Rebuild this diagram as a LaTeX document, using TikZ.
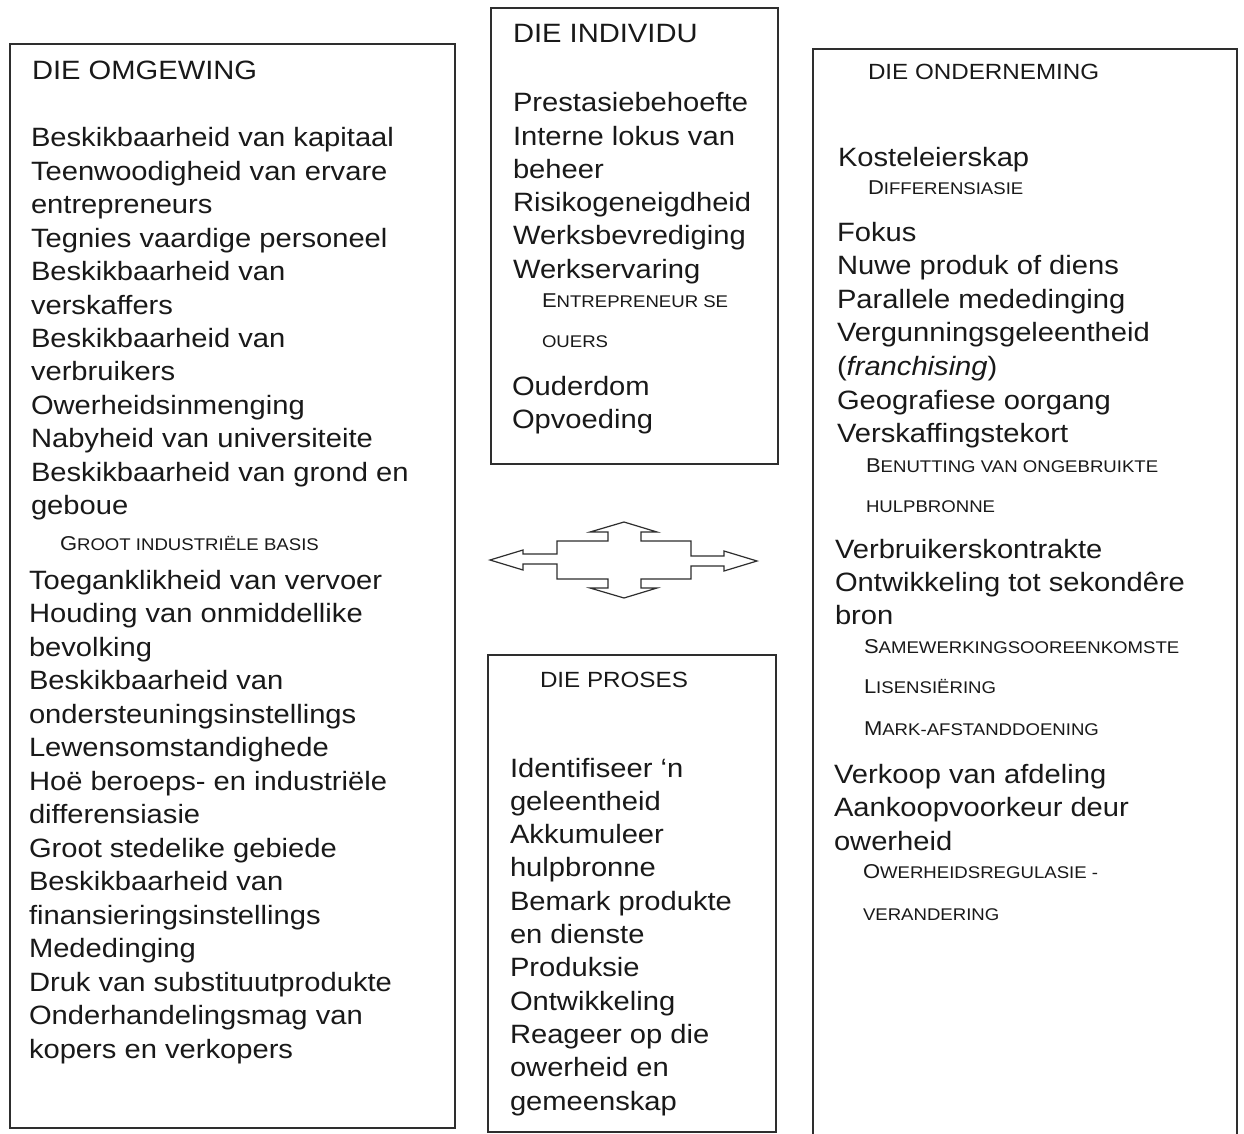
\documentclass[tikz,border=0pt]{standalone}
\usepackage{fontspec}
\setmainfont{Liberation Sans}[FakeStretch=1.1]
\newcommand\fsc[2]{{\fontsize{20}{20}\selectfont #1\fontsize{16.9}{17}\selectfont #2}}
\begin{document}
\begin{tikzpicture}[x=1pt,y=-1pt,
  box/.style={draw=black!82,line width=1.3pt,anchor=north west,inner sep=0pt,outer sep=0pt},
  txt/.style={anchor=base west,inner sep=0pt,outer sep=0pt,text=black!90,font=\fontsize{26.5}{33.5}\selectfont},
  hdr/.style={txt,font=\fontsize{22}{26}\selectfont},
  sml/.style={txt,font=\fontsize{16.9}{18}\selectfont},
  arrowshape/.style={draw=black!82,line width=1.2pt,line join=miter,fill=white}]
\useasboundingbox[fill=white] (0,0) rectangle (1244,1134);

% boxes
\node[box,minimum width=445pt,minimum height=1084pt] (omgewing) at (10,44) {};
\node[box,minimum width=287pt,minimum height=456pt] (individu) at (491,8) {};
\node[box,minimum width=288pt,minimum height=477pt] (proses) at (488,655) {};
\node[box,minimum width=424pt,minimum height=1110pt] (onderneming) at (813,49) {};

% left box
\node[txt] (o0) at (32,80) {DIE OMGEWING};
\foreach \t [count=\i] in {Beskikbaarheid van kapitaal,Teenwoodigheid van ervare,entrepreneurs,Tegnies vaardige personeel,Beskikbaarheid van,verskaffers,Beskikbaarheid van,verbruikers,Owerheidsinmenging,Nabyheid van universiteite,Beskikbaarheid van grond en,geboue}
  \node[txt] (oa\i) at (31,147+33.4*\i-33.4) {\t};
\node[sml] (osc) at (60,550) {\fsc{G}{ROOT INDUSTRIËLE BASIS}};
\foreach \t [count=\i] in {Toeganklikheid van vervoer,Houding van onmiddellike,bevolking,Beskikbaarheid van,ondersteuningsinstellings,Lewensomstandighede,Hoë beroeps- en industriële,differensiasie,Groot stedelike gebiede,Beskikbaarheid van,finansieringsinstellings,Mededinging,Druk van substituutprodukte,Onderhandelingsmag van,kopers en verkopers}
  \node[txt] (ob\i) at (29,589+33.5*\i-33.5) {\t};

% individu box
\node[txt] (i0) at (513,43) {DIE INDIVIDU};
\foreach \t [count=\i] in {Prestasiebehoefte,Interne lokus van,beheer,Risikogeneigdheid,Werksbevrediging,Werkservaring}
  \node[txt] (ia\i) at (513,112+33.2*\i-33.2) {\t};
\node[sml] (isc1) at (542,307) {\fsc{E}{NTREPRENEUR SE}};
\node[sml] (isc2) at (542,347) {OUERS};
\node[txt] (ib1) at (512,395) {Ouderdom};
\node[txt] (ib2) at (512,428) {Opvoeding};

% proses box
\node[hdr] (p0) at (540,687) {DIE PROSES};
\foreach \t [count=\i] in {Identifiseer ‘n,geleentheid,Akkumuleer,hulpbronne,Bemark produkte,en dienste,Produksie,Ontwikkeling,Reageer op die,owerheid en,gemeenskap}
  \node[txt] (pa\i) at (510,777+33.3*\i-33.3) {\t};

% onderneming box
\node[hdr] (r0) at (868,80) {DIE ONDERNEMING};
\node[txt] (r1) at (838,167) {Kosteleierskap};
\node[sml] (rsc1) at (868,195) {\fsc{D}{IFFERENSIASIE}};
\foreach \t [count=\i] in {Fokus,Nuwe produk of diens,Parallele mededinging,Vergunningsgeleentheid,(\emph{franchising}),Geografiese oorgang,Verskaffingstekort}
  \node[txt] (ra\i) at (837,241+33.6*\i-33.6) {\t};
\node[sml] (rsc2) at (866,472) {\fsc{B}{ENUTTING VAN ONGEBRUIKTE}};
\node[sml] (rsc3) at (866,512) {HULPBRONNE};
\foreach \t [count=\i] in {Verbruikerskontrakte,Ontwikkeling tot sekondêre,bron}
  \node[txt] (rb\i) at (835,558+33*\i-33) {\t};
\node[sml] (rsc4) at (864,653) {\fsc{S}{AMEWERKINGSOOREENKOMSTE}};
\node[sml] (rsc5) at (864,693) {\fsc{L}{ISENSIËRING}};
\node[sml] (rsc6) at (864,735) {\fsc{M}{ARK-AFSTANDDOENING}};
\foreach \t [count=\i] in {Verkoop van afdeling,Aankoopvoorkeur deur,owerheid}
  \node[txt] (rc\i) at (834,783+33.5*\i-33.5) {\t};
\node[sml] (rsc7) at (863,878) {\fsc{O}{WERHEIDSREGULASIE -}};
\node[sml] (rsc8) at (863,920) {VERANDERING};

% four-way arrow
\draw[arrowshape] (490,560) -- (523,550) -- (523,554) -- (557,554) -- (557,541)
  -- (608,541) -- (608,532) -- (590,532) -- (624,522) -- (657,532) -- (641,532) -- (641,541)
  -- (691,541) -- (691,556) -- (724,556) -- (724,551) -- (757,561) -- (724,571) -- (724,566)
  -- (691,566) -- (691,579) -- (641,579) -- (641,588) -- (657,588) -- (624,598) -- (590,588)
  -- (608,588) -- (608,579) -- (557,579) -- (557,564) -- (523,564) -- (523,570) -- cycle;
\end{tikzpicture}
\end{document}
